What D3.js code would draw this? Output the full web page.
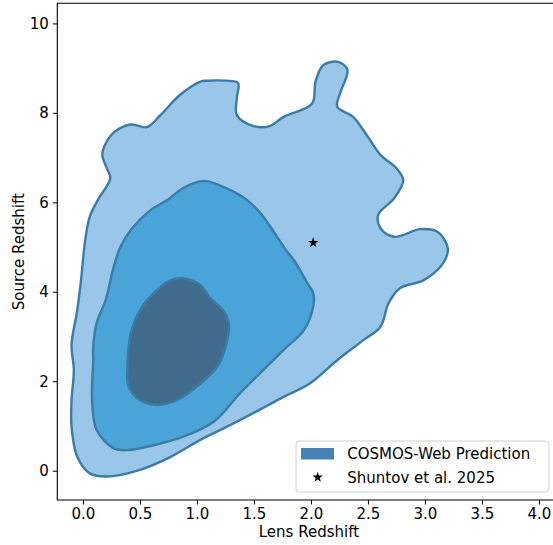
<!DOCTYPE html>
<html>
<head>
<meta charset="utf-8">
<script src="https://cdn.jsdelivr.net/npm/d3@7"></script>
<style>
  body { margin: 0; background: #fff; }
  svg text { font-family: "DejaVu Sans", sans-serif; }
</style>
</head>
<body>
<svg id="chart" width="553" height="545"></svg>
<script>
// contour outlines of the KDE, [lens z, source z]
const outerLevel = [
  [1.03, 8.70], [1.09, 8.72], [1.25, 8.72], [1.36, 8.67], [1.35, 8.33], [1.35, 7.95],
  [1.49, 7.71], [1.63, 7.70], [1.76, 7.91], [2.01, 8.21], [2.04, 8.70], [2.11, 9.07],
  [2.24, 9.14], [2.32, 8.96], [2.26, 8.47], [2.23, 8.14], [2.37, 7.91], [2.49, 7.50],
  [2.61, 7.06], [2.75, 6.76], [2.81, 6.50], [2.73, 6.09], [2.59, 5.72], [2.61, 5.42],
  [2.73, 5.23], [2.96, 5.40], [3.11, 5.34], [3.20, 4.97], [3.16, 4.64], [2.99, 4.26],
  [2.78, 4.08], [2.68, 3.74], [2.61, 3.22], [2.46, 2.92], [2.23, 2.47], [1.99, 1.95],
  [1.76, 1.65], [1.51, 1.31], [1.26, 0.98], [1.03, 0.69], [0.77, 0.31], [0.50, 0.02],
  [0.21, -0.13], [0.06, -0.06], [-0.05, 0.31], [-0.10, 0.98], [-0.10, 1.58], [-0.08, 2.25],
  [-0.10, 2.81], [-0.05, 3.59], [-0.02, 4.19], [0.02, 5.16], [0.06, 5.68], [0.13, 6.05],
  [0.24, 6.54], [0.21, 6.76], [0.17, 7.06], [0.20, 7.32], [0.28, 7.58], [0.42, 7.74],
  [0.56, 7.68], [0.68, 7.95], [0.85, 8.40]
];
const middleLevel = [
  [1.06, 6.48], [1.32, 6.24], [1.44, 6.05], [1.56, 5.75], [1.64, 5.47], [1.79, 4.90],
  [1.85, 4.71], [1.97, 4.19], [2.02, 3.97], [2.02, 3.67], [1.94, 3.15], [1.76, 2.70],
  [1.51, 2.07], [1.38, 1.74], [1.15, 1.10], [0.88, 0.76], [0.62, 0.57], [0.39, 0.46],
  [0.27, 0.50], [0.12, 0.91], [0.08, 1.58], [0.09, 2.47], [0.09, 2.77], [0.12, 3.30],
  [0.20, 3.82], [0.27, 4.56], [0.33, 5.01], [0.42, 5.38], [0.59, 5.82], [0.74, 6.05],
  [0.88, 6.32]
];
const innerLevel = [
  [0.88, 4.30], [1.03, 4.15], [1.12, 3.85], [1.23, 3.59], [1.28, 3.30], [1.26, 2.85],
  [1.18, 2.33], [1.03, 1.95], [0.83, 1.58], [0.65, 1.47], [0.50, 1.58], [0.40, 1.88],
  [0.39, 2.33], [0.42, 3.07], [0.50, 3.59], [0.65, 4.04], [0.77, 4.26]
];
const shuntov = [[2.02, 5.10]];

const xTicks = [0, 0.5, 1, 1.5, 2, 2.5, 3, 3.5, 4];
const yTicks = [0, 2, 4, 6, 8, 10];
const legendLabels = ["COSMOS-Web Prediction", "Shuntov et al. 2025"];

const svg = d3.select("#chart");
const m = { left: 57.3, top: 3.3, bottom: 500, right: 560.6 };

const x = d3.scaleLinear().domain([-0.225, 4.19]).range([m.left, m.right]);
const y = d3.scaleLinear().domain([-0.655, 10.45]).range([m.bottom, m.top]);

const line = d3.line()
  .x(d => x(d[0]))
  .y(d => y(d[1]))
  .curve(d3.curveCatmullRomClosed.alpha(0.5));

const levels = [
  { pts: outerLevel, fill: "#9ac6e9" },
  { pts: middleLevel, fill: "#4aa4d9" },
  { pts: innerLevel, fill: "#416b8c" }
];

svg.append("g")
  .selectAll("path")
  .data(levels)
  .join("path")
  .attr("d", d => line(d.pts))
  .attr("fill", d => d.fill)
  .attr("stroke", "#3a7ca6")
  .attr("stroke-width", 2.4)
  .attr("stroke-linejoin", "round");

const star = d3.symbol().type(d3.symbolStar).size(34);

svg.append("g")
  .selectAll("path")
  .data(shuntov)
  .join("path")
  .attr("transform", d => `translate(${x(d[0])},${y(d[1])})`)
  .attr("d", star)
  .attr("fill", "#000");

// axes
const xAxis = svg.append("g")
  .attr("transform", `translate(0,${m.bottom})`)
  .call(d3.axisBottom(x).tickValues(xTicks).tickFormat(d3.format(".1f")).tickSizeInner(4.5).tickSizeOuter(0).tickPadding(4));
const yAxis = svg.append("g")
  .attr("transform", `translate(${m.left},0)`)
  .call(d3.axisLeft(y).tickValues(yTicks).tickFormat(d3.format("d")).tickSizeInner(4.5).tickSizeOuter(0).tickPadding(4));

[xAxis, yAxis].forEach(g => {
  g.select(".domain").remove();
  g.selectAll("line").attr("stroke", "#000").attr("stroke-width", 1);
  g.selectAll("text").attr("font-size", 15).attr("fill", "#000")
    .style("font-family", "DejaVu Sans, sans-serif");
});

// spines
svg.append("path")
  .attr("d", `M${m.right},${m.top}H${m.left}V${m.bottom}H${m.right}`)
  .attr("fill", "none")
  .attr("stroke", "#000")
  .attr("stroke-width", 1.1);

svg.append("text")
  .attr("x", (m.left + m.right) / 2)
  .attr("y", 536.5)
  .attr("text-anchor", "middle")
  .attr("font-size", 15)
  .text("Lens Redshift");

svg.append("text")
  .attr("transform", `translate(23.5,${(m.top + m.bottom) / 2}) rotate(-90)`)
  .attr("text-anchor", "middle")
  .attr("font-size", 15)
  .text("Source Redshift");

// legend
const legend = svg.append("g");
legend.append("rect")
  .attr("x", 296).attr("y", 441)
  .attr("width", 253).attr("height", 51)
  .attr("rx", 3.5)
  .attr("fill", "rgba(255,255,255,0.8)")
  .attr("stroke", "#d0d0d0")
  .attr("stroke-width", 1);
legend.append("rect")
  .attr("x", 301).attr("y", 448)
  .attr("width", 33).attr("height", 11.5)
  .attr("fill", "#4682b4");
legend.append("path")
  .attr("transform", "translate(317.7,477.3)")
  .attr("d", star)
  .attr("fill", "#000");
legend.selectAll("text.lab")
  .data(legendLabels)
  .join("text")
  .attr("class", "lab")
  .attr("x", 347.3)
  .attr("y", (d, i) => 459.3 + i * 24)
  .attr("font-size", 15)
  .text(d => d);
</script>
</body>
</html>
